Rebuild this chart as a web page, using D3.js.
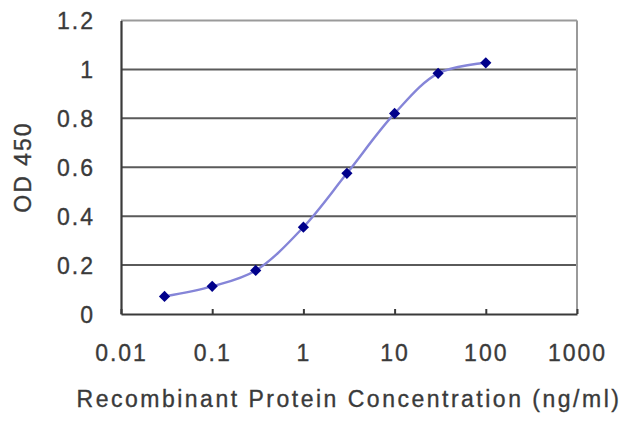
<!DOCTYPE html>
<html>
<head>
<meta charset="utf-8">
<script src="https://cdn.jsdelivr.net/npm/d3@7"></script>
<style>
  body { margin: 0; background: #fff; }
  text { font-family: "Liberation Sans", Arial, sans-serif; fill: #3a3a3a; stroke: #3a3a3a; stroke-width: 0.35px; }
</style>
</head>
<body>
<svg id="chart" width="640" height="427"></svg>
<script>
'use strict';

// concentration (ng/ml) and measured OD 450
var concentrations = [0.03, 0.1, 0.3, 1, 3, 10, 30, 100];
var odValues = [0.072, 0.113, 0.178, 0.355, 0.575, 0.82, 0.984, 1.027];

var xTicks = [0.01, 0.1, 1, 10, 100, 1000];
var xTickLabels = ['0.01', '0.1', '1', '10', '100', '1000'];
var yTicks = [0, 0.2, 0.4, 0.6, 0.8, 1, 1.2];
var yTickLabels = ['0', '0.2', '0.4', '0.6', '0.8', '1', '1.2'];

var xTitle = 'Recombinant Protein Concentration (ng/ml)';
var yTitle = 'OD 450';

var plot = { left: 121, right: 577, top: 20.5, bottom: 314 };

var svg = d3.select('#chart');

var x = d3.scaleLog().domain([0.01, 1000]).range([plot.left, plot.right]);
var y = d3.scaleLinear().domain([0, 1.2]).range([plot.bottom, plot.top]);

// - horizontal grid lines
svg.append('g')
	.selectAll('line')
	.data(yTicks.filter(d => d > 0))
	.join('line')
		.attr('x1', plot.left)
		.attr('x2', plot.right)
		.attr('y1', d => y(d))
		.attr('y2', d => y(d))
		.attr('stroke', d => d === 1.2 ? '#9a9a9a' : '#5a5a5a')
		.attr('stroke-width', 2);

// right border
svg.append('line')
	.attr('x1', plot.right).attr('x2', plot.right)
	.attr('y1', plot.top).attr('y2', plot.bottom)
	.attr('stroke', '#9a9a9a')
	.attr('stroke-width', 2);

// - axes
var xAxis = d3.axisBottom(x)
	.tickValues(xTicks)
	.tickSizeInner(-5)
	.tickSizeOuter(0)
	.tickFormat((d, i) => xTickLabels[i]);

var gx = svg.append('g')
	.attr('transform', `translate(0, ${plot.bottom})`)
	.call(xAxis);

gx.select('.domain').attr('stroke', '#3a3a3a').attr('stroke-width', 2.2);
gx.selectAll('.tick line').attr('stroke', '#3a3a3a').attr('stroke-width', 2);
gx.selectAll('.tick text')
	.attr('y', 0)
	.attr('dy', 47)
	.style('font-size', '23px')
	.style('letter-spacing', '2px')
	.style('font-family', '"Liberation Sans", Arial, sans-serif')
	.attr('fill', '#3a3a3a');

var yAxis = d3.axisLeft(y)
	.tickValues(yTicks)
	.tickSize(0)
	.tickFormat((d, i) => yTickLabels[i]);

var gy = svg.append('g')
	.attr('transform', `translate(${plot.left}, 0)`)
	.call(yAxis);

gy.select('.domain').attr('stroke', '#3a3a3a').attr('stroke-width', 2.2);
gy.selectAll('.tick text')
	.attr('x', -26)
	.attr('dy', '0.36em')
	.style('font-size', '23px')
	.style('letter-spacing', '2px')
	.style('font-family', '"Liberation Sans", Arial, sans-serif')
	.attr('fill', '#3a3a3a');

// - titles
svg.append('text')
	.attr('x', (plot.left + plot.right) / 2)
	.attr('y', 407)
	.attr('text-anchor', 'middle')
	.style('font-size', '23px')
	.style('letter-spacing', '2.5px')
	.text(xTitle);

svg.append('text')
	.attr('transform', 'translate(31, 167) rotate(-90)')
	.attr('text-anchor', 'middle')
	.style('font-size', '23px')
	.style('letter-spacing', '2px')
	.text(yTitle);

// - curve and markers
var points = concentrations.map((c, i) => [c, odValues[i]]);

var line = d3.line()
	.x(d => x(d[0]))
	.y(d => y(d[1]))
	.curve(d3.curveCatmullRom.alpha(0.5));

svg.append('path')
	.datum(points)
	.attr('d', line)
	.attr('fill', 'none')
	.attr('stroke', '#8585d8')
	.attr('stroke-width', 2.4);

var diamond = d3.symbol().type(d3.symbolDiamond2).size(80);

svg.append('g')
	.selectAll('path')
	.data(points)
	.join('path')
		.attr('transform', d => `translate(${x(d[0])}, ${y(d[1])})`)
		.attr('d', diamond)
		.attr('fill', '#00008b');
</script>
</body>
</html>
